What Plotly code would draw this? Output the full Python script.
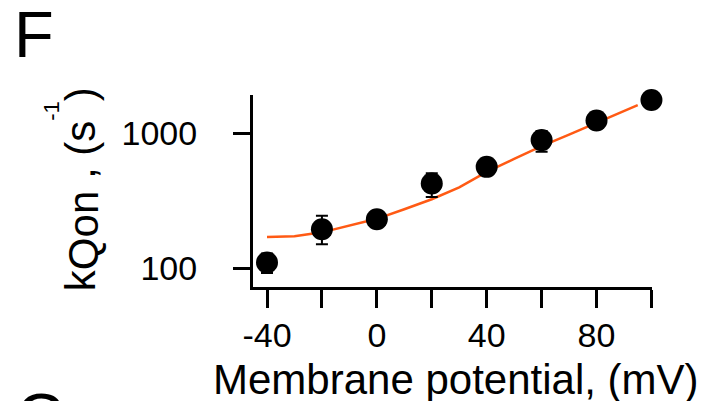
import plotly.graph_objects as go

# Data points (membrane potential, mV) and k_Qon (s^-1)
voltage = [-40, -20, 0, 20, 40, 60, 80, 100]
k_qon = [110, 194, 230, 425, 564, 891, 1247, 1770]
err_plus = [18, 50, 20, 80, 70, 150, 150, 200]
err_minus = [18, 44, 20, 88, 70, 160, 150, 200]

# Fit curve
fit_v = [-40, -30, -20, -10, 0, 10, 20, 30, 40, 50, 60, 70, 80, 90, 95]
fit_k = [170, 172, 184, 206, 232, 273, 324, 397, 518, 646, 805, 980, 1194, 1462, 1623]

x_tickvals = [-40, 0, 40, 80]
x_ticktext = ["-40", "0", "40", "80"]
x_minorvals = [-20, 20, 60, 100]
y_tickvals = [100, 1000]
y_ticktext = ["100", "1000"]

FONT = "Liberation Sans, Arial, sans-serif"

fig = go.Figure()
fig.add_trace(go.Scatter(
    x=fit_v, y=fit_k, mode="lines",
    line=dict(color="#ff5a14", width=2.5),
    hoverinfo="skip", cliponaxis=False, showlegend=False,
))
fig.add_trace(go.Scatter(
    x=voltage, y=k_qon, mode="markers",
    marker=dict(color="black", size=22),
    error_y=dict(type="data", array=err_plus, arrayminus=err_minus,
                 color="black", thickness=2, width=6),
    cliponaxis=False, showlegend=False,
))

axis_common = dict(
    showline=True, linecolor="black", linewidth=3,
    ticks="outside", tickcolor="black", tickwidth=3,
    showgrid=False, zeroline=False,
    tickfont=dict(family=FONT, size=34, color="black"),
)

# The page body has an 8px margin, so the figure is 8px smaller than the window
fig.update_layout(
    width=715, height=393, autosize=False,
    margin=dict(l=245, r=71, t=87, b=114),
    paper_bgcolor="white", plot_bgcolor="white",
    xaxis=dict(range=[-45.1, 100.2], tickvals=x_tickvals, ticktext=x_ticktext,
               ticklen=18, ticklabelstandoff=-2,
               minor=dict(tickvals=x_minorvals, ticks="outside", ticklen=18,
                          tickwidth=3, tickcolor="black", showgrid=False),
               **axis_common),
    yaxis=dict(type="log", range=[1.859, 3.285], tickvals=y_tickvals,
               ticktext=y_ticktext, ticklen=17, ticklabelstandoff=29,
               **axis_common),
    font=dict(family=FONT, color="black"),
    annotations=[
        dict(text="Membrane potential, (mV)", xref="paper", yref="paper",
             x=0.51, y=-0.48, xanchor="center", yanchor="middle",
             showarrow=False, font=dict(size=42, family=FONT, color="black")),
        dict(text="k<span style='baseline-shift:-3px'>Qon</span> , (s"
                  "<span style='font-size:22px;baseline-shift:36px'>-1</span>)",
             xref="paper", yref="paper",
             x=-0.451, y=0.51, xanchor="center", yanchor="middle", textangle=-90,
             showarrow=False, font=dict(size=42, family=FONT, color="black")),
        dict(text="F", xref="paper", yref="paper",
             x=-0.604, y=1.315, xanchor="left", yanchor="middle",
             showarrow=False, font=dict(size=65, family=FONT, color="black")),
        dict(text="G", xref="paper", yref="paper",
             x=-0.6, y=-0.677, xanchor="left", yanchor="middle",
             showarrow=False, font=dict(size=65, family=FONT, color="black")),
    ],
)

fig.write_html("out.html")
